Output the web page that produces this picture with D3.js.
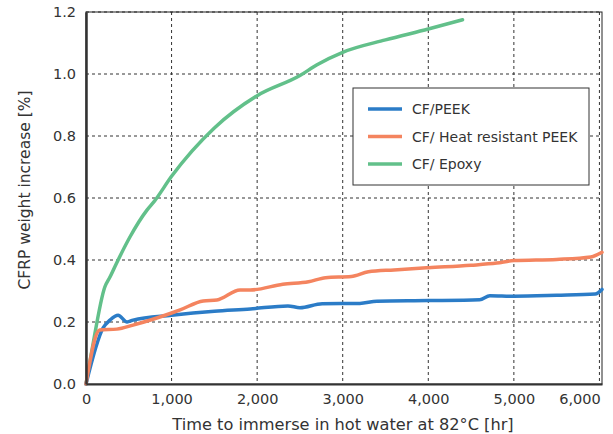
<!DOCTYPE html>
<html>
<head>
<meta charset="utf-8">
<script src="https://cdn.jsdelivr.net/npm/d3@7"></script>
<style>
  body { margin: 0; background: #fff; }
  text { font-family: "DejaVu Sans", sans-serif; fill: #333; }
</style>
</head>
<body>
<div id="chart"></div>
<script>
// data (hours, weight increase %)
let seriesNames = ["CF/PEEK", "CF/ Heat resistant PEEK", "CF/ Epoxy"];
let seriesColors = ["#2b7cc7", "#f4845f", "#62c08a"];

let peekHours = [0, 200, 280, 375, 480, 550, 1000, 1500, 1920, 2360, 2500, 2760, 3200, 3400, 4000, 4600, 4720, 5000, 5500, 5950, 6030];
let peekVals  = [0, 0.181, 0.206, 0.222, 0.2, 0.206, 0.222, 0.235, 0.242, 0.252, 0.246, 0.259, 0.26, 0.267, 0.269, 0.272, 0.285, 0.283, 0.286, 0.29, 0.305];

let hrPeekHours = [0, 160, 360, 550, 1000, 1100, 1370, 1530, 1800, 1920, 2300, 2600, 2800, 3100, 3300, 3600, 4000, 4500, 4800, 5000, 5500, 5900, 6030];
let hrPeekVals  = [0, 0.174, 0.177, 0.19, 0.229, 0.239, 0.268, 0.271, 0.303, 0.303, 0.322, 0.33, 0.343, 0.347, 0.362, 0.368, 0.375, 0.383, 0.39, 0.398, 0.402, 0.41, 0.425];

let epoxyHours = [0, 70, 220, 280, 340, 515, 710, 800, 1000, 1500, 2000, 2500, 2700, 3000, 3500, 4000, 4400];
let epoxyVals  = [0, 0.11, 0.313, 0.345, 0.38, 0.475, 0.56, 0.59, 0.67, 0.826, 0.93, 0.995, 1.03, 1.07, 1.11, 1.145, 1.175];

let xTicks = [0, 1000, 2000, 3000, 4000, 5000, 6000];
let yTicks = [0, 0.2, 0.4, 0.6, 0.8, 1.0, 1.2];

let margin = { top: 12, right: 11, bottom: 50, left: 86 },
    width = 613 - margin.left - margin.right,
    height = 434 - margin.top - margin.bottom;

let svg = d3.select("#chart").append("svg")
    .attr("width", 613)
    .attr("height", 434);

let g = svg.append("g").attr("transform", "translate(" + margin.left + "," + margin.top + ")");

let x = d3.scaleLinear().domain([0, 6030]).range([0, width]);
let y = d3.scaleLinear().domain([0, 1.2]).range([height, 0]);

// dashed grid
g.selectAll(".vgrid").data(xTicks.slice(1)).enter().append("line")
    .attr("x1", d => x(d)).attr("x2", d => x(d))
    .attr("y1", 0).attr("y2", height)
    .style("stroke", "#333").style("stroke-width", 1).style("stroke-dasharray", "3,3");
g.selectAll(".hgrid").data(yTicks.slice(1)).enter().append("line")
    .attr("x1", 0).attr("x2", width)
    .attr("y1", d => y(d)).attr("y2", d => y(d))
    .style("stroke", "#333").style("stroke-width", 1).style("stroke-dasharray", "3,3");

// frame
g.append("rect").attr("width", width).attr("height", height)
    .style("fill", "none").style("stroke", "#222").style("stroke-width", 1);

// series
let line = d3.line().x(d => x(d[0])).y(d => y(d[1])).curve(d3.curveMonotoneX);
let seriesData = [
    d3.zip(peekHours, peekVals),
    d3.zip(hrPeekHours, hrPeekVals),
    d3.zip(epoxyHours, epoxyVals)
];
[2, 0, 1].forEach(function(i) {
    g.append("path").datum(seriesData[i])
        .attr("d", line)
        .style("fill", "none")
        .style("stroke", seriesColors[i])
        .style("stroke-width", 3.5)
        .style("stroke-linejoin", "round")
        .style("stroke-linecap", "round");
});

// axes
let xAxis = g.append("g").attr("transform", "translate(0," + height + ")")
    .call(d3.axisBottom(x).tickValues(xTicks).tickSize(0).tickPadding(10).tickFormat(d3.format(",")));
xAxis.select(".domain").style("stroke", "#333").style("stroke-width", 2);
xAxis.selectAll("text").style("font-size", "14.5px").style("fill", "#333");
// last label pulled in so it stays inside the picture
xAxis.selectAll(".tick").filter(d => d === 6000).select("text").attr("text-anchor", "end").attr("dx", "0.05em");

let yAxis = g.append("g")
    .call(d3.axisLeft(y).tickValues(yTicks).tickSize(0).tickPadding(10).tickFormat(d3.format(".1f")));
yAxis.select(".domain").style("stroke", "#333").style("stroke-width", 2.5);
yAxis.selectAll("text").style("font-size", "14.5px").style("fill", "#333");

// axis titles
svg.append("text")
    .attr("x", 343).attr("y", 430)
    .attr("text-anchor", "middle")
    .style("font-size", "16.2px")
    .text("Time to immerse in hot water at 82°C [hr]");

svg.append("text")
    .attr("transform", "translate(30,190) rotate(-90)")
    .attr("text-anchor", "middle")
    .style("font-size", "15.5px")
    .text("CFRP  weight increase [%]");

// legend
let legend = svg.append("g").attr("transform", "translate(353,88)");
legend.append("rect").attr("width", 236).attr("height", 97)
    .style("fill", "#fff").style("stroke", "#333").style("stroke-width", 1);
seriesNames.forEach(function(name, i) {
    legend.append("line")
        .attr("x1", 15).attr("x2", 49)
        .attr("y1", 21 + i * 27.5).attr("y2", 21 + i * 27.5)
        .style("stroke", seriesColors[i]).style("stroke-width", 3.5);
    legend.append("text")
        .attr("x", 59).attr("y", 26 + i * 27.5)
        .style("font-size", "14px")
        .text(name);
});
</script>
</body>
</html>
